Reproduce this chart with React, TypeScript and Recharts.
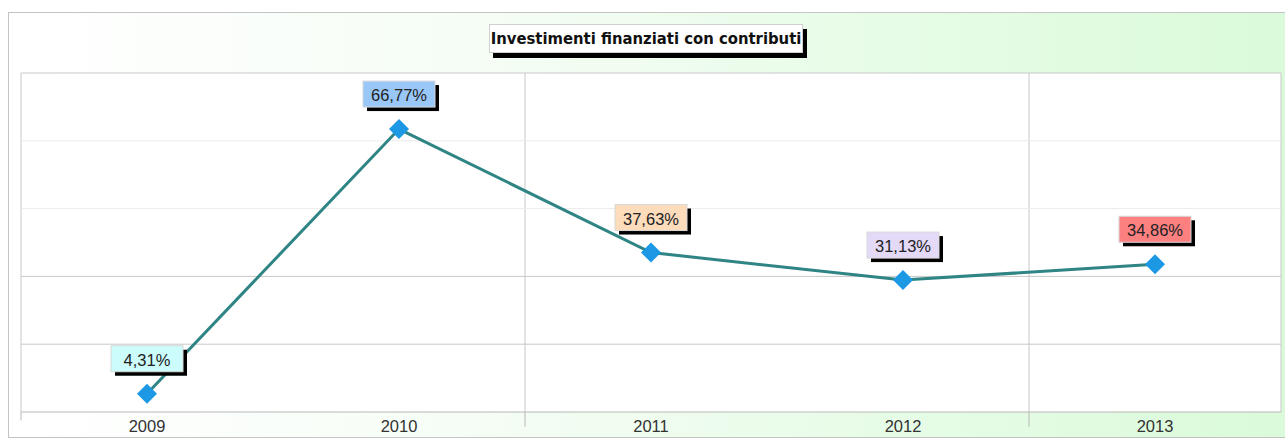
import React from 'react';
import { LineChart, Line, XAxis, YAxis, CartesianGrid, LabelList, ReferenceLine } from 'recharts';

const years = ['2009', '2010', '2011', '2012', '2013'];
const shares = [4.31, 66.77, 37.63, 31.13, 34.86];
const labelFills = ['#ccfcfc', '#99c8f8', '#fddcbc', '#e4daf8', '#fc8080'];
const yTicks = [0, 16, 32, 48, 64, 80];
const title = 'Investimenti finanziati con contributi';

// each year sits in the middle of its own slot on a 0..5 axis
const data = years.map((year, i) => ({ year, pos: i + 0.5, value: shares[i] }));
const xTicks = data.map((d) => d.pos);

const fmt = (v: number) => v.toFixed(2).replace('.', ',') + '%';

const Diamond = (props: any) => {
  const { cx, cy } = props;
  if (cx == null || cy == null) return null;
  const r = 10;
  return (
    <polygon
      points={`${cx},${cy - r} ${cx + r},${cy} ${cx},${cy + r} ${cx - r},${cy}`}
      fill="#1c98e4"
    />
  );
};

const BoxLabel = (props: any) => {
  const { x, y, value, index } = props;
  const w = 72;
  const h = 26;
  const bx = x - w / 2;
  const by = y - 22 - h;
  return (
    <g>
      <rect x={bx + 4} y={by + 4} width={w} height={h} fill="#000" />
      <rect x={bx} y={by} width={w} height={h} fill={labelFills[index]} stroke="#d8d8d8" />
      <text
        x={x}
        y={by + h / 2 + 1}
        textAnchor="middle"
        dominantBaseline="central"
        fontFamily="'Liberation Sans', Arial, sans-serif"
        fontSize={16.5}
        fill="#222"
      >
        {fmt(value)}
      </text>
    </g>
  );
};

export default function App() {
  return (
    <div style={{ position: 'absolute', left: 0, top: 0, width: 1285, height: 443, overflow: 'hidden', background: '#fff' }}>
      <div
        style={{
          position: 'absolute',
          left: 8,
          top: 12,
          width: 1285,
          height: 424,
          border: '1px solid #c4c4c4',
          background: 'linear-gradient(90deg, #ffffff 0%, #f6fdf6 35%, #e6fce6 70%, #dafada 100%)',
        }}
      />
      <div style={{ position: 'absolute', left: 0, top: 0 }}>
        <LineChart width={1285} height={443} data={data} margin={{ top: 73, right: 4, left: 21, bottom: 0 }}>
          <XAxis
            dataKey="pos"
            type="number"
            domain={[0, 5]}
            ticks={xTicks}
            tickFormatter={(v: number) => years[Math.floor(v)]}
            height={31}
            axisLine={{ stroke: '#b8b8b8' }}
            tickLine={false}
            tickSize={0}
            tickMargin={8}
            tick={{ fill: '#333', fontSize: 16.5, fontFamily: "'Liberation Sans', Arial, sans-serif" }}
          />
          <YAxis domain={[0, 80]} ticks={yTicks} hide />
          <CartesianGrid
            fill="#fff"
            stroke="#c8c8c8"
            horizontalValues={[16, 32, 80]}
            verticalValues={[0, 2, 4, 5]}
          />
          <CartesianGrid vertical={false} stroke="#ececec" horizontalValues={[48, 64]} />
          {[0, 2, 4].map((g) => (
            <ReferenceLine
              key={g}
              segment={[{ x: g, y: 0 }, { x: g, y: g === 0 ? -2 : -3.5 }]}
              ifOverflow="visible"
              stroke="#b8b8b8"
            />
          ))}
          <Line
            dataKey="value"
            stroke="#2f8484"
            strokeWidth={3}
            dot={<Diamond />}
            activeDot={false}
            isAnimationActive={false}
          >
            <LabelList dataKey="value" content={<BoxLabel />} />
          </Line>
        </LineChart>
      </div>
      <div
        style={{
          position: 'absolute',
          left: 489,
          top: 24,
          width: 314,
          height: 29,
          background: '#fff',
          border: '1px solid #d0d0d0',
          boxSizing: 'border-box',
          boxShadow: '4px 5px 0 #000',
          fontFamily: "'DejaVu Sans Condensed', 'DejaVu Sans', sans-serif",
          fontWeight: 'bold',
          fontSize: 16.5,
          color: '#111',
          display: 'flex',
          alignItems: 'center',
          justifyContent: 'center',
          whiteSpace: 'nowrap',
        }}
      >
        {title}
      </div>
    </div>
  );
}
